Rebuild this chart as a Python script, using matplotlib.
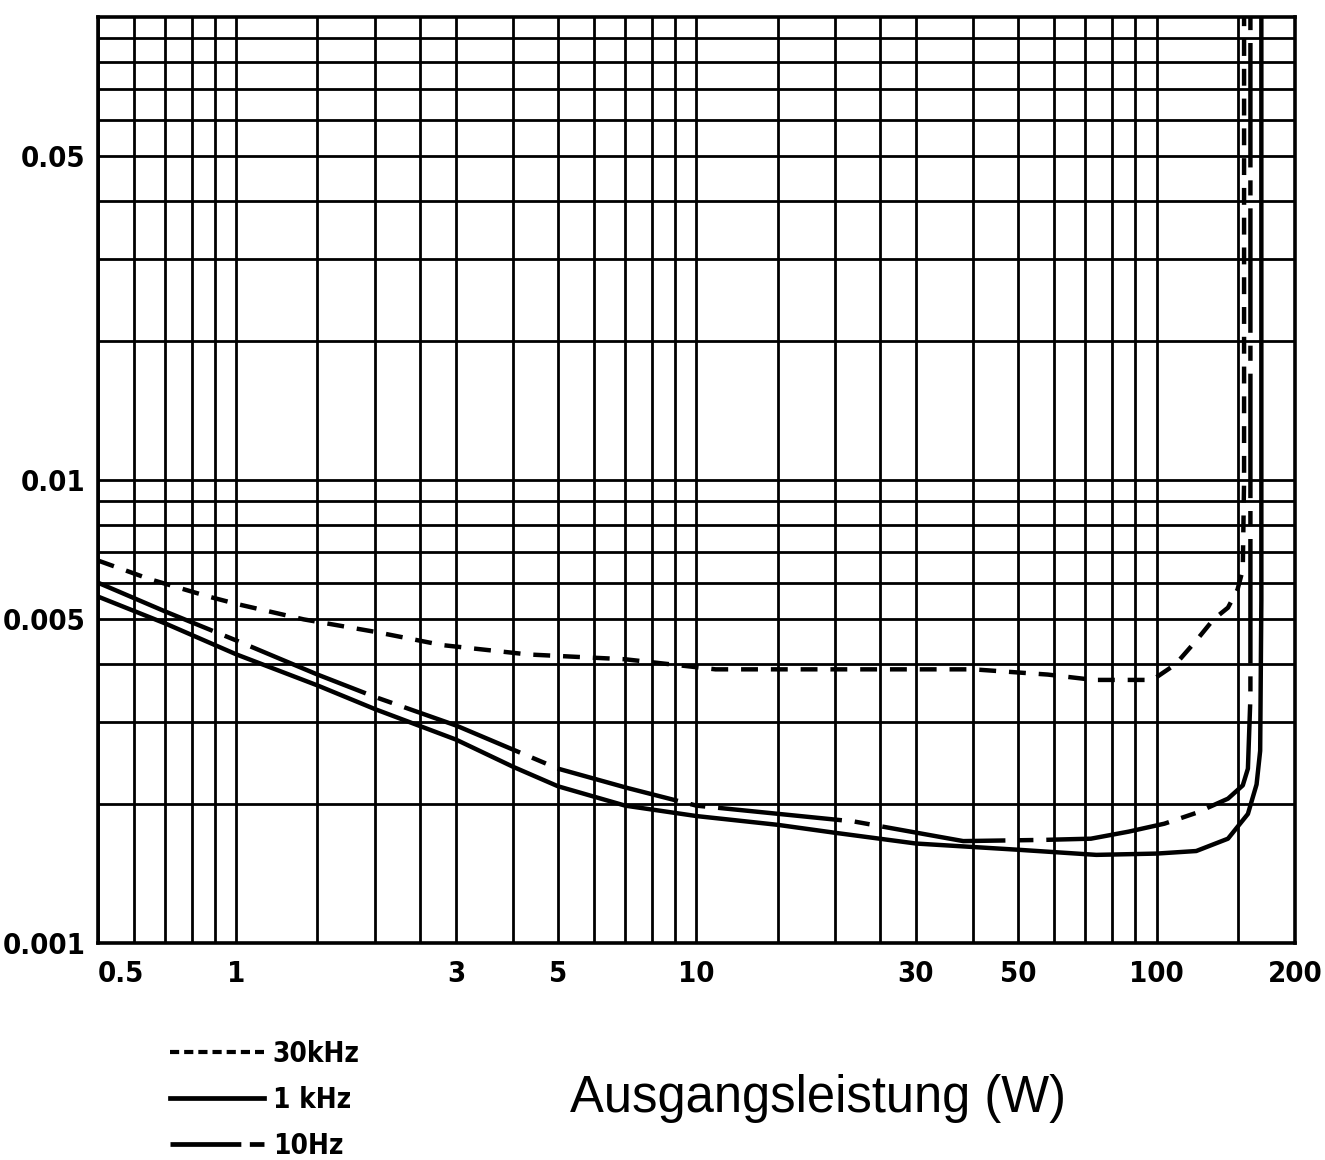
import matplotlib
matplotlib.use('Agg')
from matplotlib import pyplot as plt
from matplotlib import font_manager
from matplotlib.lines import Line2D
from matplotlib.ticker import FixedLocator, NullFormatter

# distortion vs. output power
p_30k = [0.5, 0.65, 0.87, 1.0, 1.4, 2.0, 2.8, 4.3, 7.0, 11, 20, 40, 58, 73,
         86, 98, 110, 122, 133, 143, 150, 154, 155, 155]
thd_30k = [0.0067, 0.0061, 0.0056, 0.0054, 0.0050, 0.0047, 0.0044, 0.0042,
           0.0041, 0.0039, 0.0039, 0.0039, 0.0038, 0.0037, 0.0037, 0.0037,
           0.0040, 0.0045, 0.0050, 0.0053, 0.0058, 0.0064, 0.010, 0.12]

p_1k = [0.5, 0.7, 1.0, 1.5, 2.0, 3.0, 4.0, 5.0, 7.0, 10, 15, 20, 30, 50, 74,
        100, 122, 143, 158, 165, 168, 169, 169]
thd_1k = [0.0056, 0.0049, 0.0042, 0.0036, 0.0032, 0.00275, 0.0024, 0.00218,
          0.00198, 0.00188, 0.0018, 0.00173, 0.00164, 0.00159, 0.00155,
          0.00156, 0.00158, 0.00168, 0.0019, 0.0022, 0.0026, 0.0055, 0.12]

p_10 = [0.5, 0.7, 1.0, 1.5, 2.0, 3.0, 5.0, 7.1, 10, 22, 38, 57, 72, 87, 104,
        122, 143, 154, 158, 160, 160]
thd_10 = [0.0060, 0.0052, 0.0045, 0.0038, 0.0034, 0.00295, 0.00238, 0.00216,
          0.00198, 0.00183, 0.00166, 0.00167, 0.00168, 0.00174, 0.00181,
          0.00191, 0.00205, 0.00219, 0.00238, 0.0034, 0.12]

x_major = [0.5, 1, 3, 5, 10, 30, 50, 100, 200]
x_minor = [0.6, 0.7, 0.8, 0.9, 1.5, 2, 2.5, 4, 6, 7, 8, 9, 15, 20, 25, 40,
           60, 70, 80, 90, 150]
y_major = [0.001, 0.005, 0.01, 0.05]
y_major_labels = ['0.001', '0.005', '0.01', '0.05']
y_minor = [0.002, 0.003, 0.004, 0.006, 0.007, 0.008, 0.009,
           0.02, 0.03, 0.04, 0.06, 0.07, 0.08, 0.09]

names = {f.name for f in font_manager.fontManager.ttflist}
narrow = 'Liberation Sans Narrow' if 'Liberation Sans Narrow' in names else 'DejaVu Sans'
plain = 'Liberation Sans' if 'Liberation Sans' in names else 'DejaVu Sans'

fig = plt.figure(figsize=(13.25, 11.6), dpi=100)
ax = fig.add_axes([98/1325, 1 - 943/1160, (1295 - 98)/1325, (943 - 17)/1160])
ax.set_xscale('log')
ax.set_yscale('log')
ax.set_xlim(0.5, 200)
ax.set_ylim(0.001, 0.1)

ax.xaxis.set_major_locator(FixedLocator(x_major))
ax.xaxis.set_minor_locator(FixedLocator(x_minor))
ax.set_xticklabels([f'{v:g}' for v in x_major])
ax.xaxis.set_minor_formatter(NullFormatter())
ax.yaxis.set_major_locator(FixedLocator(y_major))
ax.yaxis.set_minor_locator(FixedLocator(y_minor))
ax.set_yticklabels(y_major_labels)
ax.yaxis.set_minor_formatter(NullFormatter())

ax.grid(True, which='both', color='black', linewidth=2.0)
for s in ax.spines.values():
    s.set_linewidth(2.6)
ax.tick_params(which='both', length=0)
ax.tick_params(axis='x', pad=12)
ax.tick_params(axis='y', pad=9)
for lab in ax.get_xticklabels() + ax.get_yticklabels():
    lab.set_fontfamily(narrow)
    lab.set_fontweight('bold')
    lab.set_fontstretch('condensed')
    lab.set_fontsize(21)
ax.get_xticklabels()[0].set_horizontalalignment('left')

lw = 3.2
ax.plot(p_30k, thd_30k, color='black', linewidth=lw, dashes=(3.8, 2.9),
        solid_capstyle='butt', dash_capstyle='butt')
ax.plot(p_1k, thd_1k, color='black', linewidth=lw)
ax.plot(p_10, thd_10, color='black', linewidth=lw, dashes=(28, 2.9, 3.4, 2.9),
        dash_capstyle='butt')

handles = [
    Line2D([], [], color='black', linewidth=3.0, dashes=(2.2, 1.2)),
    Line2D([], [], color='black', linewidth=3.4),
    Line2D([], [], color='black', linewidth=3.4, dashes=(15, 1.8, 3.1, 1.8)),
]
fig.legend(handles, ['30kHz', '1 kHz', '10Hz'], loc='upper left',
           bbox_to_anchor=(170/1325, 1 - 1040/1160), frameon=False,
           handlelength=3.4, handletextpad=0.3, labelspacing=0.65,
           borderpad=0, borderaxespad=0,
           prop={'family': narrow, 'weight': 'bold', 'stretch': 'condensed',
                 'size': 20})

fig.text(818/1325, 1 - 1112/1160, 'Ausgangsleistung (W)', ha='center',
         va='baseline', fontsize=36.5, family=plain)

fig.savefig('out.png', dpi=100)
